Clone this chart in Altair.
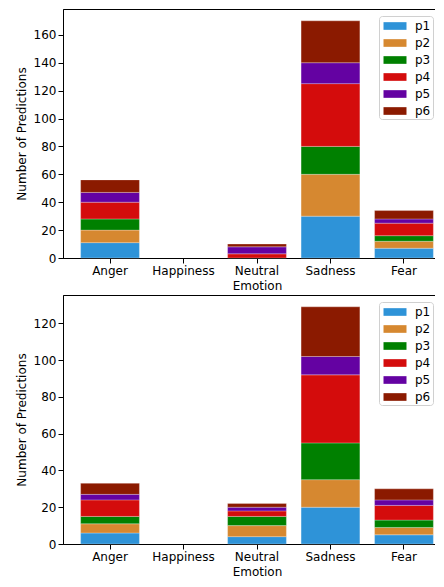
import altair as alt
import pandas as pd

emotions = ["Anger", "Happiness", "Neutral", "Sadness", "Fear"]
series = ["p1", "p2", "p3", "p4", "p5", "p6"]
colors = ["#2e93d8", "#d68830", "#008000", "#d40c0c", "#6402a2", "#8b1a00"]

# Top panel values (per series, ordered by emotions)
top_p1 = [11, 0, 0, 30, 7]
top_p2 = [9, 0, 0, 30, 5]
top_p3 = [8, 0, 0, 20, 4]
top_p4 = [12, 0, 3, 45, 9]
top_p5 = [7, 0, 5, 15, 3]
top_p6 = [9, 0, 2, 30, 6]

# Bottom panel values
bot_p1 = [6, 0, 4, 20, 5]
bot_p2 = [5, 0, 6, 15, 4]
bot_p3 = [4, 0, 5, 20, 4]
bot_p4 = [9, 0, 3, 37, 8]
bot_p5 = [3, 0, 2, 10, 3]
bot_p6 = [6, 0, 2, 27, 6]

top_ticks = [0, 20, 40, 60, 80, 100, 120, 140, 160]
bot_ticks = [0, 20, 40, 60, 80, 100, 120]
top_ymax = 178.5
bot_ymax = 135.45


def make_df(vals):
    rows = []
    for i, (s, v) in enumerate(zip(series, vals)):
        for e, c in zip(emotions, v):
            rows.append({"Emotion": e, "Series": s, "Count": c, "ord": i})
    return pd.DataFrame(rows)


def panel(df, ymax, ticks, h):
    return (
        alt.Chart(df)
        .transform_filter("datum.Count > 0")
        .mark_bar(stroke="white", strokeWidth=0.6, strokeOpacity=0.45)
        .encode(
            x=alt.X(
                "Emotion:N",
                scale=alt.Scale(domain=emotions, paddingInner=0.2, paddingOuter=0.24),
                axis=alt.Axis(labelAngle=0, title="Emotion"),
            ),
            y=alt.Y(
                "Count:Q",
                stack="zero",
                scale=alt.Scale(domain=[0, ymax], nice=False),
                axis=alt.Axis(values=ticks, title="Number of Predictions"),
            ),
            color=alt.Color(
                "Series:N",
                scale=alt.Scale(domain=series, range=colors),
                legend=alt.Legend(
                    orient="none",
                    legendX=316,
                    legendY=7,
                    title=None,
                    symbolType="M-1.5,-0.5L1.5,-0.5L1.5,0.5L-1.5,0.5Z",
                    symbolSize=235,
                    symbolStrokeWidth=0,
                    symbolOpacity=1,
                    symbolOffset=6,
                    fillColor="white",
                    strokeColor="#d0d0d0",
                    cornerRadius=3,
                    padding=2,
                    labelFontSize=12,
                    labelFont="DejaVu Sans",
                    labelColor="black",
                    labelOffset=12,
                    rowPadding=3,
                ),
            ),
            order=alt.Order("ord:Q", sort="ascending"),
        )
        .properties(width=388, height=h)
    )


top = panel(
    make_df([top_p1, top_p2, top_p3, top_p4, top_p5, top_p6]), top_ymax, top_ticks, 249
)
bottom = panel(
    make_df([bot_p1, bot_p2, bot_p3, bot_p4, bot_p5, bot_p6]), bot_ymax, bot_ticks, 249
)

chart = (
    alt.vconcat(top, bottom, spacing=2)
    .resolve_legend(color="independent")
    .properties(padding={"left": 6, "top": 0, "right": -17, "bottom": 0})
    .configure_view(stroke="black", strokeWidth=1)
    .configure_axis(
        labelFont="DejaVu Sans",
        titleFont="DejaVu Sans",
        labelFontSize=12,
        titleFontSize=12,
        titleFontWeight="normal",
        labelColor="black",
        titleColor="black",
        tickColor="black",
        domainColor="black",
        tickSize=5,
        labelPadding=2,
        grid=False,
    )
    .configure_axisY(titlePadding=5)
    .configure_axisX(titlePadding=4)
)

chart.save("out.html", embed_options={"renderer": "svg", "actions": False})
